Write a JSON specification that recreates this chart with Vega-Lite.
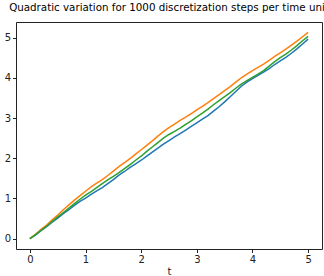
{
  "$schema": "https://vega.github.io/schema/vega-lite/v6.json",
  "width": 306,
  "height": 227,
  "autosize": {"type": "none"},
  "padding": {"left": 16, "top": 22, "right": 2, "bottom": 27},
  "background": "white",
  "title": {"text": "Quadratic variation for 1000 discretization steps per time unit", "font": "DejaVu Sans", "fontSize": 10.3, "fontWeight": "normal", "color": "#000", "anchor": "middle", "baseline": "alphabetic", "offset": 1},
  "config": {
    "view": {"stroke": "#222", "strokeWidth": 1},
    "axis": {"labelFont": "DejaVu Sans", "titleFont": "DejaVu Sans", "labelFontSize": 10, "titleFontSize": 10, "titleFontWeight": "normal", "labelColor": "#222", "titleColor": "#222", "tickColor": "#222", "tickSize": 3.5, "labelPadding": 2, "domain": false, "grid": false}
  },
  "data": {"values": [
    {"t":0,"v":0,"run":0},{"t":0.1,"v":0.09,"run":0},{"t":0.2,"v":0.2,"run":0},{"t":0.3,"v":0.3,"run":0},{"t":0.4,"v":0.41,"run":0},{"t":0.5,"v":0.51,"run":0},{"t":0.6,"v":0.62,"run":0},{"t":0.7,"v":0.72,"run":0},{"t":0.8,"v":0.83,"run":0},{"t":0.9,"v":0.93,"run":0},{"t":1.0,"v":1.01,"run":0},{"t":1.1,"v":1.1,"run":0},{"t":1.2,"v":1.19,"run":0},{"t":1.3,"v":1.27,"run":0},{"t":1.4,"v":1.37,"run":0},{"t":1.5,"v":1.47,"run":0},{"t":1.6,"v":1.58,"run":0},{"t":1.7,"v":1.67,"run":0},{"t":1.8,"v":1.77,"run":0},{"t":1.9,"v":1.86,"run":0},{"t":2.0,"v":1.95,"run":0},{"t":2.1,"v":2.05,"run":0},{"t":2.2,"v":2.15,"run":0},{"t":2.3,"v":2.25,"run":0},{"t":2.4,"v":2.35,"run":0},{"t":2.5,"v":2.44,"run":0},{"t":2.6,"v":2.53,"run":0},{"t":2.7,"v":2.61,"run":0},{"t":2.8,"v":2.7,"run":0},{"t":2.9,"v":2.79,"run":0},{"t":3.0,"v":2.88,"run":0},{"t":3.1,"v":2.97,"run":0},{"t":3.2,"v":3.06,"run":0},{"t":3.3,"v":3.17,"run":0},{"t":3.4,"v":3.28,"run":0},{"t":3.5,"v":3.4,"run":0},{"t":3.6,"v":3.53,"run":0},{"t":3.7,"v":3.66,"run":0},{"t":3.8,"v":3.79,"run":0},{"t":3.9,"v":3.89,"run":0},{"t":4.0,"v":3.98,"run":0},{"t":4.1,"v":4.06,"run":0},{"t":4.2,"v":4.14,"run":0},{"t":4.3,"v":4.23,"run":0},{"t":4.4,"v":4.33,"run":0},{"t":4.5,"v":4.42,"run":0},{"t":4.6,"v":4.51,"run":0},{"t":4.7,"v":4.61,"run":0},{"t":4.8,"v":4.72,"run":0},{"t":4.9,"v":4.84,"run":0},{"t":5.0,"v":4.96,"run":0},
    {"t":0,"v":0,"run":1},{"t":0.1,"v":0.11,"run":1},{"t":0.2,"v":0.23,"run":1},{"t":0.3,"v":0.34,"run":1},{"t":0.4,"v":0.47,"run":1},{"t":0.5,"v":0.59,"run":1},{"t":0.6,"v":0.72,"run":1},{"t":0.7,"v":0.84,"run":1},{"t":0.8,"v":0.96,"run":1},{"t":0.9,"v":1.07,"run":1},{"t":1.0,"v":1.18,"run":1},{"t":1.1,"v":1.29,"run":1},{"t":1.2,"v":1.38,"run":1},{"t":1.3,"v":1.47,"run":1},{"t":1.4,"v":1.57,"run":1},{"t":1.5,"v":1.68,"run":1},{"t":1.6,"v":1.79,"run":1},{"t":1.7,"v":1.89,"run":1},{"t":1.8,"v":1.99,"run":1},{"t":1.9,"v":2.1,"run":1},{"t":2.0,"v":2.21,"run":1},{"t":2.1,"v":2.32,"run":1},{"t":2.2,"v":2.43,"run":1},{"t":2.3,"v":2.55,"run":1},{"t":2.4,"v":2.66,"run":1},{"t":2.5,"v":2.76,"run":1},{"t":2.6,"v":2.85,"run":1},{"t":2.7,"v":2.94,"run":1},{"t":2.8,"v":3.02,"run":1},{"t":2.9,"v":3.11,"run":1},{"t":3.0,"v":3.2,"run":1},{"t":3.1,"v":3.29,"run":1},{"t":3.2,"v":3.38,"run":1},{"t":3.3,"v":3.48,"run":1},{"t":3.4,"v":3.58,"run":1},{"t":3.5,"v":3.68,"run":1},{"t":3.6,"v":3.78,"run":1},{"t":3.7,"v":3.89,"run":1},{"t":3.8,"v":4.0,"run":1},{"t":3.9,"v":4.09,"run":1},{"t":4.0,"v":4.18,"run":1},{"t":4.1,"v":4.26,"run":1},{"t":4.2,"v":4.34,"run":1},{"t":4.3,"v":4.43,"run":1},{"t":4.4,"v":4.53,"run":1},{"t":4.5,"v":4.62,"run":1},{"t":4.6,"v":4.71,"run":1},{"t":4.7,"v":4.81,"run":1},{"t":4.8,"v":4.91,"run":1},{"t":4.9,"v":5.02,"run":1},{"t":5.0,"v":5.13,"run":1},
    {"t":0,"v":0,"run":2},{"t":0.1,"v":0.1,"run":2},{"t":0.2,"v":0.21,"run":2},{"t":0.3,"v":0.31,"run":2},{"t":0.4,"v":0.43,"run":2},{"t":0.5,"v":0.54,"run":2},{"t":0.6,"v":0.65,"run":2},{"t":0.7,"v":0.76,"run":2},{"t":0.8,"v":0.87,"run":2},{"t":0.9,"v":0.98,"run":2},{"t":1.0,"v":1.08,"run":2},{"t":1.1,"v":1.17,"run":2},{"t":1.2,"v":1.27,"run":2},{"t":1.3,"v":1.37,"run":2},{"t":1.4,"v":1.46,"run":2},{"t":1.5,"v":1.55,"run":2},{"t":1.6,"v":1.64,"run":2},{"t":1.7,"v":1.74,"run":2},{"t":1.8,"v":1.84,"run":2},{"t":1.9,"v":1.95,"run":2},{"t":2.0,"v":2.05,"run":2},{"t":2.1,"v":2.17,"run":2},{"t":2.2,"v":2.28,"run":2},{"t":2.3,"v":2.39,"run":2},{"t":2.4,"v":2.5,"run":2},{"t":2.5,"v":2.59,"run":2},{"t":2.6,"v":2.67,"run":2},{"t":2.7,"v":2.75,"run":2},{"t":2.8,"v":2.84,"run":2},{"t":2.9,"v":2.93,"run":2},{"t":3.0,"v":3.03,"run":2},{"t":3.1,"v":3.12,"run":2},{"t":3.2,"v":3.22,"run":2},{"t":3.3,"v":3.33,"run":2},{"t":3.4,"v":3.43,"run":2},{"t":3.5,"v":3.53,"run":2},{"t":3.6,"v":3.63,"run":2},{"t":3.7,"v":3.74,"run":2},{"t":3.8,"v":3.84,"run":2},{"t":3.9,"v":3.93,"run":2},{"t":4.0,"v":4.01,"run":2},{"t":4.1,"v":4.09,"run":2},{"t":4.2,"v":4.18,"run":2},{"t":4.3,"v":4.29,"run":2},{"t":4.4,"v":4.4,"run":2},{"t":4.5,"v":4.5,"run":2},{"t":4.6,"v":4.59,"run":2},{"t":4.7,"v":4.69,"run":2},{"t":4.8,"v":4.8,"run":2},{"t":4.9,"v":4.92,"run":2},{"t":5.0,"v":5.03,"run":2}
  ]},
  "mark": {"type": "line", "strokeWidth": 1.5, "clip": true},
  "encoding": {
    "x": {"field": "t", "type": "quantitative", "scale": {"domain": [-0.25, 5.25], "nice": false, "zero": false}, "axis": {"values": [0, 1, 2, 3, 4, 5], "title": "t", "titlePadding": 2, "labelFlush": false}},
    "y": {"field": "v", "type": "quantitative", "scale": {"domain": [-0.2565, 5.3865], "nice": false, "zero": false}, "axis": {"values": [0, 1, 2, 3, 4, 5], "title": null, "labelFlush": false}},
    "color": {"field": "run", "type": "nominal", "scale": {"domain": [0, 1, 2], "range": ["#1f77b4", "#ff7f0e", "#2ca02c"]}, "legend": null}
  }
}
